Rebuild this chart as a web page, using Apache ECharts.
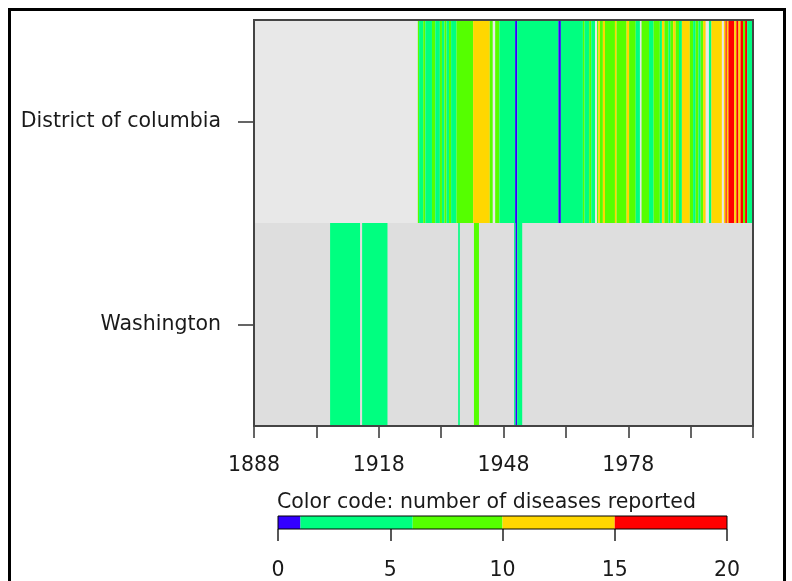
<!DOCTYPE html>
<html>
<head>
<meta charset="utf-8">
<script src="https://cdn.jsdelivr.net/npm/echarts/dist/echarts.min.js"></script>
<style>
  body { margin: 0; background: #fff; }
  #chart { width: 792px; height: 581px; }
</style>
</head>
<body>
<div id="chart"></div>
<script>
// rows, bottom to top
const rowNames = ['Washington', 'District of columbia'];
const rowMissing = ['#dedede', '#e8e8e8'];

// [from year, to year, diseases reported]
const dcSegments = [
  [1927.4, 1927.7, 7], [1927.7, 1928.7, 3], [1928.7, 1929.2, 7], [1929.2, 1930.8, 3],
  [1930.8, 1931.6, 8], [1931.6, 1932.7, 4], [1932.7, 1933.2, 7], [1933.2, 1933.8, 3],
  [1933.8, 1934.3, 8], [1934.3, 1934.9, 4], [1934.9, 1935.4, 7], [1935.4, 1936.7, 5],
  [1936.7, 1940.7, 8], [1940.7, 1944.7, 12], [1944.7, 1945.4, 7],
  [1946.0, 1947.0, 8], [1947.0, 1950.8, 4], [1950.8, 1951.3, 0], [1951.3, 1961.2, 3],
  [1961.2, 1961.8, 0], [1961.8, 1967.1, 4], [1967.1, 1967.5, 7], [1967.5, 1968.6, 5],
  [1968.6, 1969.1, 8], [1969.1, 1970.0, 5],
  [1970.5, 1970.8, 8], [1970.8, 1971.2, 11], [1971.2, 1971.9, 9], [1971.9, 1972.4, 12],
  [1972.4, 1974.8, 8], [1974.8, 1975.2, 11], [1975.2, 1977.6, 9], [1977.6, 1978.2, 12],
  [1978.2, 1979.8, 8], [1979.8, 1980.8, 5],
  [1981.2, 1983.0, 8], [1983.0, 1984.1, 4], [1984.1, 1985.6, 8], [1985.6, 1986.1, 4],
  [1986.1, 1986.7, 12], [1986.7, 1987.7, 8], [1987.7, 1988.1, 4], [1988.1, 1988.8, 8],
  [1988.8, 1989.4, 13], [1989.4, 1990.2, 8], [1990.2, 1990.9, 4], [1990.9, 1992.8, 12],
  [1992.8, 1993.6, 8], [1993.6, 1994.2, 4], [1994.2, 1994.9, 8], [1994.9, 1995.4, 4],
  [1995.4, 1996.0, 8], [1996.0, 1996.6, 12],
  [1997.4, 1998.0, 5], [1998.0, 2000.5, 13],
  [2001.0, 2001.4, 12], [2001.4, 2001.7, 17], [2001.7, 2002.1, 14], [2002.1, 2003.5, 18],
  [2003.5, 2004.0, 13], [2004.0, 2004.5, 17], [2004.5, 2005.0, 13], [2005.0, 2005.6, 17],
  [2005.6, 2006.1, 8], [2006.1, 2006.6, 17], [2006.6, 2008.0, 4]
];

const waSegments = [
  [1906.3, 1913.5, 3], [1914.0, 1920.1, 3], [1937.1, 1937.5, 2], [1940.9, 1942.1, 7],
  [1950.55, 1950.9, 2], [1950.9, 1951.3, 0], [1951.3, 1952.5, 3]
];

const yearMin = 1888;
const yearMax = 2008;

// colour code
const colorBreaks = [0, 1, 6, 10, 15, 20];
const colorList = ['#3300ff', '#00ff80', '#55ff00', '#ffd700', '#ff0000'];

function colorOf(v) {
  for (let i = 0; i < colorList.length; i++) {
    if (v < colorBreaks[i + 1]) return colorList[i];
  }
  return colorList[colorList.length - 1];
}

const segData = [];
waSegments.forEach(s => segData.push([s[0], s[1], 0, s[2]]));
dcSegments.forEach(s => segData.push([s[0], s[1], 1, s[2]]));

const bgData = rowNames.map((n, i) => [yearMin, yearMax, i]);

const legendData = colorList.map((c, i) => [colorBreaks[i], colorBreaks[i + 1], i]);

const font = 'DejaVu Sans';
const fs = 20.5;

function rowRect(api) {
  const a = api.coord([api.value(0), api.value(2)]);
  const b = api.coord([api.value(1), api.value(2)]);
  const h = api.size([0, 1])[1];
  return { x: a[0], y: a[1] - h / 2, width: b[0] - a[0], height: h };
}

const chart = echarts.init(document.getElementById('chart'));
chart.setOption({
  animation: false,
  backgroundColor: '#fff',
  title: {
    text: 'Color code: number of diseases reported',
    left: 277,
    top: 492,
    padding: 0,
    textStyle: { fontFamily: font, fontSize: fs, fontWeight: 'normal', color: '#1a1a1a' }
  },
  grid: [
    { left: 254, top: 20, width: 499, height: 406, show: true, z: 5,
      borderColor: '#444', borderWidth: 2 },
    { left: 278, top: 516, width: 449, height: 13, show: true, z: 5,
      borderColor: '#000', borderWidth: 1 }
  ],
  xAxis: [
    {
      gridIndex: 0, type: 'value', min: yearMin, max: yearMax, interval: 15,
      axisLine: { show: false },
      axisTick: { show: true, length: 12, lineStyle: { color: '#333', width: 1.5 } },
      splitLine: { show: false },
      axisLabel: {
        margin: 29, fontFamily: font, fontSize: fs, color: '#1a1a1a',
        formatter: v => ((v - yearMin) % 30 === 0 && v < yearMax) ? String(v) : ''
      }
    },
    {
      gridIndex: 1, type: 'value', min: 0, max: 20, interval: 5,
      axisLine: { show: false },
      axisTick: { show: true, length: 12, lineStyle: { color: '#222', width: 1.5 } },
      splitLine: { show: false },
      axisLabel: { margin: 31, fontFamily: font, fontSize: fs, color: '#1a1a1a' }
    }
  ],
  yAxis: [
    {
      gridIndex: 0, type: 'category', data: rowNames,
      axisLine: { show: false },
      axisTick: { show: true, length: 16, alignWithLabel: true, lineStyle: { color: '#333', width: 1.5 } },
      splitLine: { show: false },
      axisLabel: { margin: 33, fontFamily: font, fontSize: fs, color: '#1a1a1a', padding: [6, 0, 0, 0] }
    },
    { gridIndex: 1, type: 'value', min: 0, max: 1, show: false }
  ],
  series: [
    {
      type: 'custom', xAxisIndex: 0, yAxisIndex: 0, data: bgData, clip: true,
      encode: { x: [0, 1], y: 2 },
      renderItem: (params, api) => ({
        type: 'rect', shape: rowRect(api),
        style: { fill: rowMissing[api.value(2)] }
      })
    },
    {
      type: 'custom', xAxisIndex: 0, yAxisIndex: 0, data: segData, clip: true,
      encode: { x: [0, 1], y: 2 },
      renderItem: (params, api) => ({
        type: 'rect', shape: rowRect(api),
        style: { fill: colorOf(api.value(3)) }
      })
    },
    {
      type: 'custom', xAxisIndex: 1, yAxisIndex: 1, data: legendData,
      encode: { x: [0, 1] },
      renderItem: (params, api) => {
        const a = api.coord([api.value(0), 1]);
        const b = api.coord([api.value(1), 0]);
        return {
          type: 'rect',
          shape: { x: a[0], y: a[1], width: b[0] - a[0], height: b[1] - a[1] },
          style: { fill: colorList[api.value(2)] }
        };
      }
    }
  ],
  graphic: [
    {
      type: 'rect', left: 7, top: 7, z: 100, silent: true,
      shape: { width: 775, height: 600 },
      style: { fill: 'none', stroke: '#000', lineWidth: 3 }
    }
  ]
});
</script>
</body>
</html>
